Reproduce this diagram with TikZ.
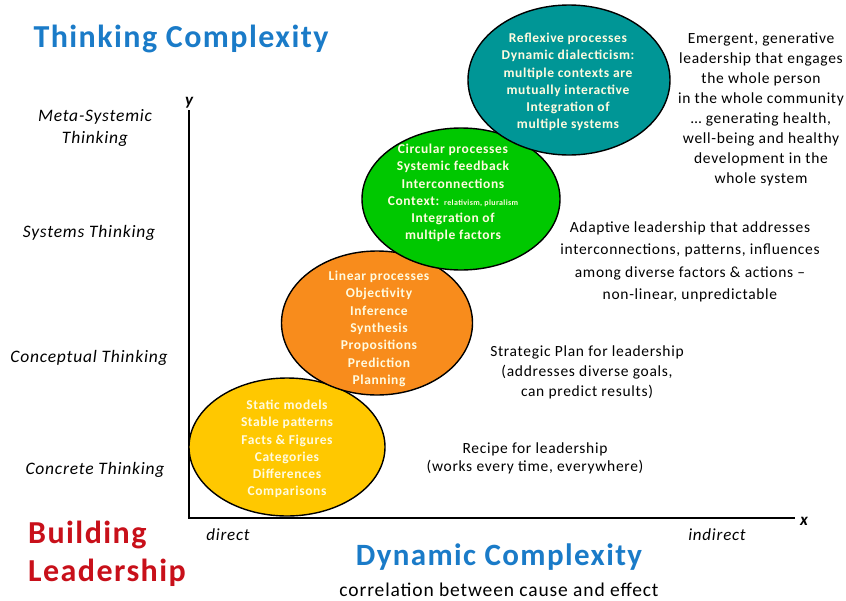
\documentclass[tikz,border=0pt]{standalone}
\usepackage{fontspec}
\setmainfont{Carlito}[LetterSpace=4.5]
\usetikzlibrary{shapes.geometric}
\definecolor{titleblue}{HTML}{1A7BC8}
\definecolor{buildred}{HTML}{C8101A}
\definecolor{cyell}{HTML}{FFC800}
\definecolor{corange}{HTML}{F88C1C}
\definecolor{cgreen}{HTML}{00C800}
\definecolor{cteal}{HTML}{009696}
\definecolor{etext}{HTML}{FFFBE0}
\tikzset{
  blob/.style={ellipse, draw=black, line width=1.4pt, inner sep=0pt},
  btext/.style={text=etext, font=\bfseries\fontsize{13.5}{17.3}\selectfont, align=center, inner sep=0pt},
  rtext/.style={text=black, font=\fontsize{15.5}{20}\selectfont, align=center, inner sep=0pt},
  ltext/.style={text=black, font=\itshape\fontsize{17.5}{22}\selectfont, align=center, inner sep=0pt},
  axis/.style={line width=1.2pt, draw=black},
  big/.style={font=\bfseries\fontsize{32}{38}\selectfont, inner sep=0pt},
}
\begin{document}
\begin{tikzpicture}[x=1pt,y=-1pt]
\useasboundingbox (0,0) rectangle (846,600);
% axes
\coordinate (O) at (189,518);
\coordinate (ytop) at (189,110);
\coordinate (xend) at (795,518);
\draw[axis] (ytop) -- (O) -- (xend);
\node[font=\bfseries\itshape\fontsize{17}{17}\selectfont, inner sep=0pt] (ylab) at (189,103) {y};
\node[font=\bfseries\itshape\fontsize{17}{17}\selectfont, inner sep=0pt] (xlab) at (804,521) {x};
% ellipses
\node[blob, fill=cyell, minimum width=196pt, minimum height=138pt] (e1) at (287,447) {};
\node[btext] (t1) at (287,449) {Static models\\Stable patterns\\Facts \& Figures\\Categories\\Differences\\Comparisons};
\node[blob, fill=corange, minimum width=191pt, minimum height=144pt] (e2) at (377,323) {};
\node[btext] (t2) at (379,329) {Linear processes\\Objectivity\\Inference\\Synthesis\\Propositions\\Prediction\\Planning};
\node[blob, fill=cgreen, minimum width=198pt, minimum height=142pt] (e3) at (461,199) {};
\node[btext] (t3) at (453,193) {Circular processes\\Systemic feedback\\Interconnections\\Context: {\fontsize{8}{17}\selectfont relativism, pluralism}\\Integration of\\multiple factors};
\node[blob, fill=cteal, minimum width=202pt, minimum height=150pt] (e4) at (569,80) {};
\node[btext] (t4) at (568,82) {Reflexive processes\\Dynamic dialecticism:\\multiple contexts are\\mutually interactive\\Integration of\\multiple systems};
% right texts
\node[rtext] (r4) at (761,109) {Emergent, generative\\leadership that engages\\the whole person\\in the whole community\\\dots\ generating health,\\well-being and healthy\\development in the\\whole system};
\node[rtext, font=\fontsize{15.5}{22.5}\selectfont] (r3) at (690,262) {Adaptive leadership that addresses\\interconnections, patterns, influences\\among diverse factors \& actions --\\non-linear, unpredictable};
\node[rtext] (r2) at (587,372) {Strategic Plan for leadership\\(addresses diverse goals,\\can predict results)};
\node[rtext, font=\fontsize{15.5}{18}\selectfont] (r1) at (535,458) {Recipe for leadership\\(works every time, everywhere)};
% left labels
\node[ltext] (l4) at (95,128) {Meta-Systemic\\Thinking};
\node[ltext] (l3) at (89,233) {Systems Thinking};
\node[ltext] (l2) at (89,358) {Conceptual Thinking};
\node[ltext] (l1) at (95,470) {Concrete Thinking};
% titles
\node[big, text=titleblue] (tc) at (181,39) {Thinking Complexity};
\node[big, text=buildred, align=left, anchor=north west] (bl) at (28,521) {Building\\Leadership};
\node[big, text=titleblue, font=\bfseries\fontsize{31}{34}\selectfont] (dc) at (499,557) {Dynamic Complexity};
\node[inner sep=0pt, font=\fontsize{19.5}{22}\selectfont] (corr) at (499,590) {correlation between cause and effect};
\node[ltext, font=\itshape\fontsize{17}{17}\selectfont] (dir) at (228,535) {direct};
\node[ltext, font=\itshape\fontsize{17}{17}\selectfont] (ind) at (717,535) {indirect};
\end{tikzpicture}
\end{document}
